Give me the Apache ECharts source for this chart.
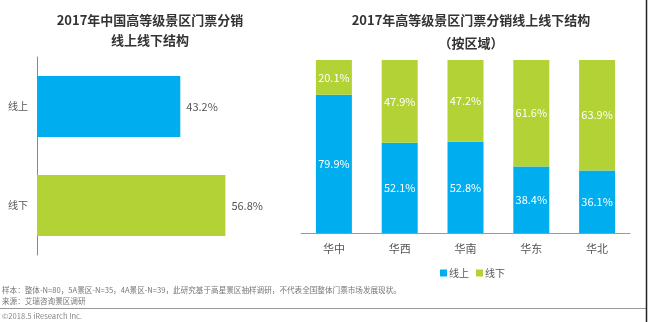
<!DOCTYPE html>
<html><head><meta charset="utf-8">
<script src="https://cdn.jsdelivr.net/npm/echarts@6/dist/echarts.min.js"></script>
<style>html,body{margin:0;padding:0;background:#fff}#c{width:650px;height:322px}</style>
</head><body><div id="c"></div>
<script>
var totalCats = ['线上', '线下'];
var totalVals = [43.2, 56.8];
var regions = ['华中', '华西', '华南', '华东', '华北'];
var onlineVals = [79.9, 52.1, 52.8, 38.4, 36.1];
var offlineVals = [20.1, 47.9, 47.2, 61.6, 63.9];
var BLUE = '#00AEEF', GREEN = '#B2D235';
var FONT = '"Noto Sans CJK SC", "Microsoft YaHei", sans-serif';

var chart = echarts.init(document.getElementById('c'), null, {renderer: 'canvas'});
chart.setOption({
  backgroundColor: '#fff',
  textStyle: {fontFamily: FONT},
  animation: false,
  title: [
    {text: '2017年中国高等级景区门票分销\n线上线下结构', left: 145, top: 5, textAlign: 'center',
     textStyle: {fontSize: 13, fontWeight: 'bold', color: '#333', lineHeight: 20, fontFamily: FONT}},
    {text: '2017年高等级景区门票分销线上线下结构\n（按区域）', left: 466, top: 4, textAlign: 'center',
     textStyle: {fontSize: 13, fontWeight: 'bold', color: '#333', lineHeight: 23, fontFamily: FONT}}
  ],
  legend: {
    data: ['线上', '线下'], left: 435, top: 263, itemWidth: 7, itemHeight: 7, itemGap: 7,
    icon: 'rect', textStyle: {fontSize: 10, color: '#555', padding: [0, 0, 0, -3]}
  },
  grid: [
    {left: 37, top: 57, width: 199, height: 198},
    {left: 301, top: 60, width: 329, height: 173}
  ],
  xAxis: [
    {gridIndex: 0, type: 'value', min: 0, max: 60, show: false},
    {gridIndex: 1, type: 'category', data: regions,
     axisLine: {lineStyle: {color: '#999', width: 1}}, axisTick: {show: false},
     axisLabel: {color: '#555', fontSize: 11, margin: 10}}
  ],
  yAxis: [
    {gridIndex: 0, type: 'category', data: totalCats, inverse: true,
     axisLine: {lineStyle: {color: '#888'}}, axisTick: {show: false},
     axisLabel: {color: '#555', fontSize: 10, margin: 9}},
    {gridIndex: 1, type: 'value', min: 0, max: 100, show: false}
  ],
  series: [
    {type: 'bar', xAxisIndex: 0, yAxisIndex: 0, barWidth: 61,
     data: totalVals.map(function (v, i) { return {value: v, itemStyle: {color: i === 0 ? BLUE : GREEN}}; }),
     label: {show: true, position: 'right', distance: 6, color: '#555', fontSize: 11,
       formatter: function (p) { return p.value.toFixed(1) + '%'; }}},
    {name: '线上', type: 'bar', stack: 'r', xAxisIndex: 1, yAxisIndex: 1, barWidth: 36,
     itemStyle: {color: BLUE}, data: onlineVals,
     label: {show: true, position: 'inside', color: '#fff', fontSize: 11,
       formatter: function (p) { return p.value.toFixed(1) + '%'; }}},
    {name: '线下', type: 'bar', stack: 'r', xAxisIndex: 1, yAxisIndex: 1, barWidth: 36,
     itemStyle: {color: GREEN}, data: offlineVals,
     label: {show: true, position: 'inside', color: '#fff', fontSize: 11,
       formatter: function (p) { return p.value.toFixed(1) + '%'; }}}
  ],
  graphic: [
    {type: 'text', left: 2, top: 286, style: {text: '样本：整体-N=80，5A景区-N=35，4A景区-N=39，此研究基于高星景区抽样调研，不代表全国整体门票市场发展现状。', fontSize: 7.6, fill: '#777', fontFamily: FONT}},
    {type: 'text', left: 2, top: 297, style: {text: '来源：艾瑞咨询景区调研', fontSize: 7.6, fill: '#777', fontFamily: FONT}},
    {type: 'line', shape: {x1: 0, y1: 308.5, x2: 646, y2: 308.5}, style: {stroke: '#999', lineWidth: 1}},
    {type: 'text', left: 2, top: 312, style: {text: '©2018.5 iResearch Inc.', fontSize: 7.6, fill: '#888', fontFamily: FONT}},
    {type: 'line', shape: {x1: 646.5, y1: 0, x2: 646.5, y2: 322}, style: {stroke: '#222', lineWidth: 1.5}}
  ]
});
</script></body></html>
